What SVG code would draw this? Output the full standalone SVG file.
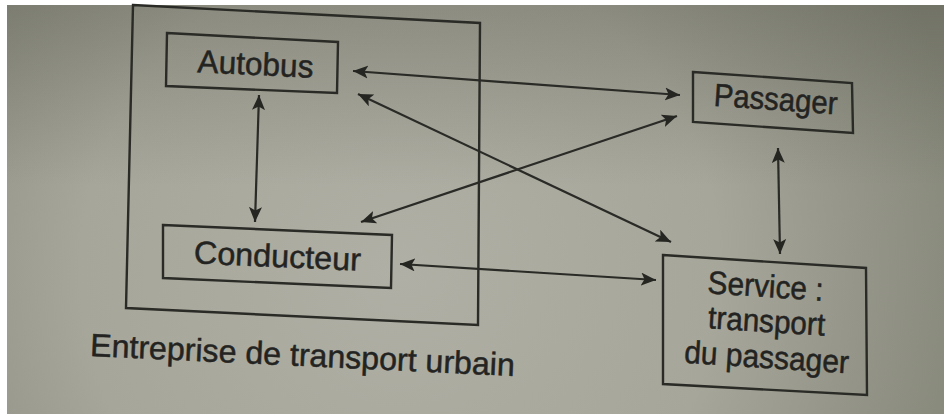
<svg xmlns="http://www.w3.org/2000/svg" width="944" height="414" viewBox="0 0 944 414">
  <defs>
    <radialGradient id="paper" gradientUnits="userSpaceOnUse" cx="400" cy="270" r="580">
      <stop offset="0" stop-color="#afafa5"/>
      <stop offset="0.55" stop-color="#a6a69a"/>
      <stop offset="1" stop-color="#86887a"/>
    </radialGradient>
    <linearGradient id="shade" x1="0" y1="0" x2="0" y2="1">
      <stop offset="0" stop-color="#28281e" stop-opacity="0.22"/>
      <stop offset="0.45" stop-color="#28281e" stop-opacity="0"/>
    </linearGradient>
    <marker id="head" markerUnits="userSpaceOnUse" markerWidth="17" markerHeight="14" refX="15" refY="6.5" orient="auto-start-reverse">
      <path d="M0,0 L15,6.5 L0,13 L3.5,6.5 z" fill="#252522"/>
    </marker>
    <style>
      .box { fill: none; stroke: #2a2a26; stroke-width: 2.4; stroke-linejoin: miter; }
      .lbl { font-family: "Liberation Sans", Arial, sans-serif; font-size: 32px; fill: #232321; stroke: #232321; stroke-width: 0.5; text-anchor: middle; }
      .link { stroke: #2a2a26; stroke-width: 2.2; fill: none; marker-start: url(#head); marker-end: url(#head); }
    </style>
  </defs>

  <!-- page background -->
  <rect x="0" y="0" width="944" height="414" fill="url(#paper)"/>
  <rect x="0" y="0" width="944" height="414" fill="url(#shade)"/>
  <rect x="0" y="0" width="944" height="5" fill="#ffffff"/>
  <rect x="0" y="0" width="7" height="414" fill="#ffffff"/>

  <!-- company frame -->
  <g id="entreprise">
    <polygon class="box" points="133,5 480,23 478,325 126,308"/>
    <text class="lbl" x="302" y="366" textLength="425" lengthAdjust="spacingAndGlyphs" transform="rotate(2.7 302 366)">Entreprise de transport urbain</text>
  </g>

  <g id="autobus">
    <polygon class="box" points="167,33 338,42 337,93 166,86"/>
    <text class="lbl" x="255" y="75" textLength="116" lengthAdjust="spacingAndGlyphs" transform="rotate(2.8 255 75)">Autobus</text>
  </g>

  <g id="conducteur">
    <polygon class="box" points="163,225 392,235 391,288 163,278"/>
    <text class="lbl" x="277" y="267" textLength="167" lengthAdjust="spacingAndGlyphs" transform="rotate(2.5 277 267)">Conducteur</text>
  </g>

  <g id="passager">
    <polygon class="box" points="693,72 852,83 853,133 693,122"/>
    <text class="lbl" x="775" y="110" textLength="124" lengthAdjust="spacingAndGlyphs" transform="rotate(4 775 110)">Passager</text>
  </g>

  <g id="service">
    <polygon class="box" points="663,255 866,268 867,395 663,384"/>
    <text class="lbl" x="765" y="297" textLength="116" lengthAdjust="spacingAndGlyphs" transform="rotate(3.7 765 297)">Service :</text>
    <text class="lbl" x="766" y="332" textLength="117" lengthAdjust="spacingAndGlyphs" transform="rotate(3.7 766 332)">transport</text>
    <text class="lbl" x="766" y="368" textLength="165" lengthAdjust="spacingAndGlyphs" transform="rotate(3.7 766 368)">du passager</text>
  </g>

  <!-- two-way relations -->
  <g id="connectors">
    <line class="link" x1="353" y1="71" x2="680" y2="95"/>
    <line class="link" x1="358" y1="94" x2="671" y2="242"/>
    <line class="link" x1="361" y1="222" x2="677" y2="116"/>
    <line class="link" x1="259" y1="95" x2="255" y2="222"/>
    <line class="link" x1="400" y1="264" x2="656" y2="280"/>
    <line class="link" x1="778" y1="148" x2="780" y2="254"/>
  </g>
</svg>
